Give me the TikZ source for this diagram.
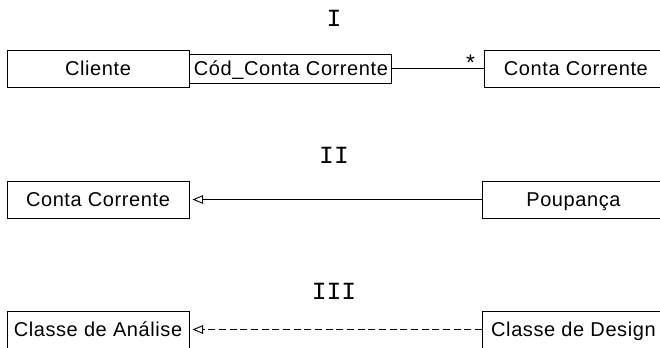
\documentclass[tikz,border=0pt]{standalone}
\usepackage{fontspec}
\setmainfont{Liberation Sans}[LetterSpace=3]
\setmonofont{Liberation Mono}
\usetikzlibrary{positioning,arrows.meta}

\begin{document}
\begin{tikzpicture}[x=0.75pt,y=-0.75pt,
    classe/.style={draw, line width=0.7pt, inner sep=0pt,
        minimum width=136.5pt, minimum height=27.75pt,
        text height=13pt, text depth=1.8pt,
        font=\fontsize{15}{18}\selectfont},
    atributo/.style={classe, minimum width=151.5pt, minimum height=21.75pt},
    numeral/.style={font=\ttfamily\fontsize{18.5}{21}\selectfont},
    heranca/.style={line width=0.7pt, shorten >=2.25pt,
        -{Triangle[open, length=8pt, width=6.5pt]}},
    dependencia/.style={heranca, dash pattern=on 5.25pt off 2.75pt}]

    \clip (0,0) rectangle (660,347);

    % I
    \node[numeral] (rotI) at (334,18) {I};
    \node[classe] (cliente) at (98,68.5) {Cliente};
    \node[atributo, right=0pt of cliente] (cod) {Cód\_Conta Corrente};
    \node[classe, right=69pt of cod] (contaI) {Conta Corrente};

    \draw[line width=0.7pt] (cod) -- (contaI)
        node[pos=0.85, above=-1.5pt, inner sep=0pt,
             font=\fontsize{17}{18}\selectfont] (mult) {*};

    % II
    \node[numeral] (rotII) at (334,155.5) {II};
    \node[classe] (conta) at (98,199.5) {Conta Corrente};
    \node[classe, anchor=west] (poupanca) at (482,199.5) {Poupança};

    \draw[heranca] (poupanca) -- (conta);

    % III
    \node[numeral] (rotIII) at (334,291.5) {III};
    \node[classe] (analise) at (98,329.5) {Classe de Análise};
    \node[classe, anchor=west] (design) at (482,329.5) {Classe de Design};

    \draw[dependencia] (design) -- (analise);
\end{tikzpicture}
\end{document}
